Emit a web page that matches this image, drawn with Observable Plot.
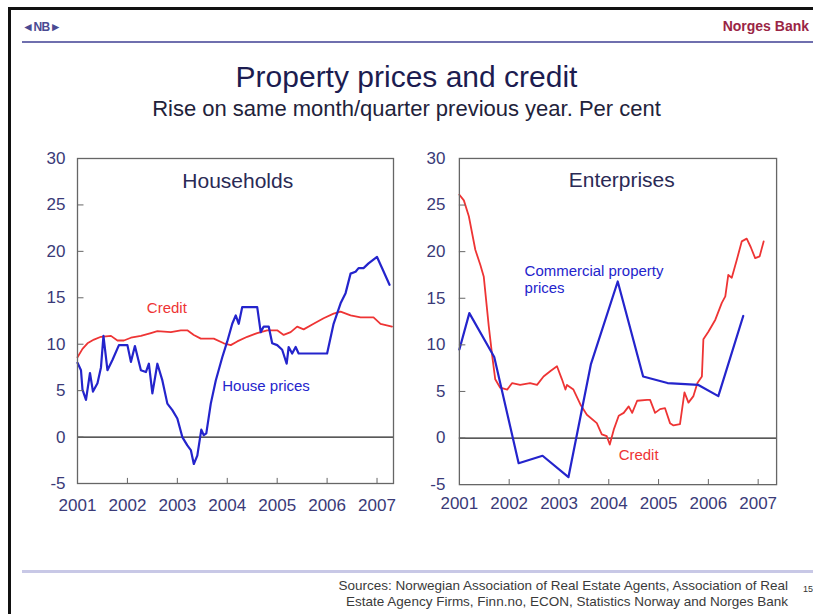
<!DOCTYPE html>
<html>
<head>
<meta charset="utf-8">
<script src="https://cdn.jsdelivr.net/npm/d3@7"></script>
<script src="https://cdn.jsdelivr.net/npm/@observablehq/plot@0.6"></script>
<style>
  html, body { margin: 0; padding: 0; background: #fff; }
  #page { position: relative; width: 813px; height: 614px; overflow: hidden; background: #fff;
          font-family: "Liberation Sans", Arial, sans-serif; }
  .abs { position: absolute; }
</style>
</head>
<body>
<div id="page">
  <div class="abs" style="left:8px;top:7px;width:805px;height:3px;background:#111;"></div>
  <div class="abs" style="left:8px;top:7px;width:3px;height:607px;background:#111;"></div>
  <div class="abs" style="left:22px;top:20px;font-size:12px;font-weight:bold;color:#4a4a92;letter-spacing:-0.5px;">◄NB►</div>
  <div class="abs" style="right:4px;top:18px;font-size:14px;font-weight:bold;color:#9a2545;">Norges Bank</div>
  <div class="abs" style="left:22px;top:41px;width:791px;height:2px;background:#6f6fae;"></div>
  <div class="abs" id="title" style="left:0;top:60px;width:813px;text-align:center;font-size:30px;color:#1c1c50;"></div>
  <div class="abs" id="subtitle" style="left:0;top:96px;width:813px;text-align:center;font-size:22px;color:#22223a;"></div>
  <div class="abs" id="left" style="left:0;top:140px;"></div>
  <div class="abs" id="right" style="left:410px;top:140px;"></div>
  <div class="abs" style="left:22px;top:570px;width:791px;height:3px;background:#c8c8e6;"></div>
  <div class="abs" id="sources" style="right:25px;top:578px;font-size:13.5px;line-height:15.5px;color:#3a3a3a;text-align:right;"></div>
  <div class="abs" style="left:803px;top:584px;font-size:9px;color:#333;">15</div>
</div>
<script>
// ---------- data ----------
const titleText = "Property prices and credit";
const subtitleText = "Rise on same month/quarter previous year. Per cent";
const sourceLines = [
  "Sources: Norwegian Association of Real Estate Agents, Association of Real",
  "Estate Agency Firms, Finn.no, ECON, Statistics Norway and Norges Bank"
];
const yearTicks = [2001, 2002, 2003, 2004, 2005, 2006, 2007];
const valueTicks = [-5, 0, 5, 10, 15, 20, 25, 30];

// Households: house prices (monthly)
const hhHouseT = [2001.00, 2001.07, 2001.10, 2001.17, 2001.25, 2001.31, 2001.40, 2001.47, 2001.52, 2001.60,
  2001.70, 2001.83, 2002.00, 2002.07, 2002.15, 2002.27, 2002.37, 2002.43, 2002.50, 2002.60,
  2002.70, 2002.80, 2002.90, 2003.00, 2003.10, 2003.20, 2003.27, 2003.33, 2003.40, 2003.48,
  2003.53, 2003.58, 2003.67, 2003.77, 2003.90, 2004.00, 2004.10, 2004.17, 2004.23, 2004.30,
  2004.60, 2004.67, 2004.73, 2004.83, 2004.90, 2005.00, 2005.10, 2005.19, 2005.23, 2005.30,
  2005.37, 2005.43, 2006.00, 2006.13, 2006.27, 2006.37, 2006.47, 2006.57, 2006.63, 2006.73,
  2006.83, 2007.00, 2007.10, 2007.25];
const hhHouseV = [8.0, 7.2, 5.1, 4.0, 6.9, 4.9, 5.8, 7.5, 10.9, 7.2,
  8.3, 9.9, 9.9, 8.1, 9.8, 7.2, 7.0, 7.9, 4.7, 7.9,
  6.1, 3.6, 2.9, 2.0, 0.0, -0.9, -1.4, -2.9, -2.0, 0.8,
  0.2, 0.4, 3.6, 6.1, 8.6, 10.3, 12.2, 13.1, 12.2, 14.0,
  14.0, 11.3, 11.9, 11.9, 10.1, 9.9, 9.4, 7.9, 9.7, 9.0,
  9.7, 9.0, 9.0, 12.2, 14.4, 15.5, 17.6, 17.8, 18.2, 18.2,
  18.7, 19.4, 18.2, 16.4];

// Households: credit
const hhCreditT = [2001.00, 2001.10, 2001.20, 2001.33, 2001.47, 2001.67, 2001.80, 2001.93, 2002.07, 2002.27,
  2002.47, 2002.60, 2002.87, 2003.07, 2003.20, 2003.33, 2003.47, 2003.73, 2003.93, 2004.07,
  2004.20, 2004.40, 2004.60, 2004.80, 2005.00, 2005.13, 2005.27, 2005.40, 2005.53, 2005.73,
  2005.93, 2006.13, 2006.27, 2006.47, 2006.67, 2006.93, 2007.07, 2007.30];
const hhCreditV = [8.6, 9.5, 10.1, 10.5, 10.8, 10.9, 10.4, 10.4, 10.7, 10.9,
  11.2, 11.4, 11.3, 11.5, 11.5, 11.0, 10.6, 10.6, 10.1, 9.9,
  10.3, 10.8, 11.2, 11.5, 11.5, 11.0, 11.3, 11.9, 11.6, 12.2,
  12.8, 13.3, 13.5, 13.1, 12.9, 12.9, 12.2, 11.9];

// Enterprises: commercial property prices
const enPropT = [2001.00, 2001.20, 2001.70, 2002.19, 2002.67, 2003.19, 2003.64, 2004.18, 2004.69, 2005.18,
  2005.80, 2006.20, 2006.70];
const enPropV = [9.5, 13.4, 8.7, -2.7, -1.9, -4.2, 7.9, 16.8, 6.6, 5.9,
  5.7, 4.5, 13.1];

// Enterprises: credit
const enCreditT = [2001.00, 2001.09, 2001.19, 2001.32, 2001.42, 2001.49, 2001.59, 2001.66, 2001.72, 2001.82,
  2001.96, 2002.06, 2002.22, 2002.42, 2002.56, 2002.69, 2002.83, 2002.96, 2003.06, 2003.13,
  2003.16, 2003.29, 2003.43, 2003.56, 2003.76, 2003.86, 2003.96, 2004.02, 2004.10, 2004.20,
  2004.30, 2004.40, 2004.47, 2004.57, 2004.77, 2004.83, 2004.93, 2005.03, 2005.13, 2005.23,
  2005.30, 2005.43, 2005.52, 2005.60, 2005.70, 2005.78, 2005.87, 2005.90, 2006.00, 2006.14,
  2006.27, 2006.34, 2006.40, 2006.47, 2006.57, 2006.67, 2006.77, 2006.85, 2006.94, 2007.03,
  2007.11];
const enCreditV = [26.1, 25.5, 23.8, 20.2, 18.6, 17.3, 12.0, 8.8, 6.3, 5.4,
  5.2, 5.9, 5.7, 5.9, 5.7, 6.6, 7.2, 7.7, 6.3, 5.2,
  5.7, 5.2, 3.6, 2.5, 1.6, 0.4, 0.2, -0.7, 0.9, 2.4,
  2.7, 3.4, 2.7, 4.0, 4.1, 4.1, 2.7, 3.1, 3.2, 1.6,
  1.35, 1.5, 4.9, 3.8, 4.5, 5.9, 6.6, 10.6, 11.4, 12.7,
  14.5, 15.2, 17.5, 17.2, 19.1, 21.1, 21.4, 20.5, 19.3, 19.5,
  21.1];

// ---------- build ----------
document.getElementById("title").textContent = titleText;
document.getElementById("subtitle").textContent = subtitleText;
document.getElementById("sources").innerHTML = sourceLines.map(s => `<div>${s}</div>`).join("");

const zip = (T, V) => T.map((t, i) => ({t, v: V[i]}));
const BLUE = "#2424cc", RED = "#ee3434", AXIS = "#3a3a78", FRAME = "#666";
const FONT = "'Liberation Sans', Arial, sans-serif";

function panel({xMax, marginLeft, marginRight, marginBottom, yPad, xPad, blue, red, title, titlePos, labels}) {
  const width = marginLeft + marginRight + (xMax - 2001) * 49.9;
  return Plot.plot({
    width: Math.round(width), height: 385,
    marginLeft, marginRight, marginTop: 18, marginBottom,
    x: {domain: [2001, xMax], axis: null},
    y: {domain: [-5, 30], axis: null},
    style: {fontFamily: FONT, background: "transparent", color: AXIS, overflow: "visible"},
    marks: [
      Plot.ruleY([0], {stroke: "#222", strokeWidth: 1.2}),
      Plot.line(red, {x: "t", y: "v", stroke: RED, strokeWidth: 1.8}),
      Plot.line(blue, {x: "t", y: "v", stroke: BLUE, strokeWidth: 2.2}),
      Plot.frame({stroke: FRAME, strokeWidth: 1.3}),
      Plot.ruleY(valueTicks.slice(1, -1), {y: d => d, x1: 2001, x2: 2001.13, stroke: FRAME}),
      Plot.ruleX(yearTicks.slice(1), {x: d => d, y1: -5, y2: -4.45, stroke: FRAME}),
      Plot.axisY(valueTicks, {label: null, tickSize: 0, tickPadding: yPad, fontSize: 17, tickFormat: d => String(d), fill: AXIS}),
      Plot.axisX(yearTicks, {label: null, tickSize: 0, tickPadding: xPad, fontSize: 17, tickFormat: d => String(d), fill: AXIS}),
      Plot.text([title], {x: titlePos[0], y: titlePos[1], text: d => d, fontSize: 21, fill: "#2a2a55"}),
      ...labels.map(l => Plot.text([l.text], {x: l.x, y: l.y, text: d => d, fontSize: 15, fill: l.color, textAnchor: l.anchor || "middle"}))
    ]
  });
}

const leftSvg = panel({
  xMax: 2007.33, marginLeft: 77, marginRight: 17, marginBottom: 42, yPad: 12, xPad: 15,
  blue: zip(hhHouseT, hhHouseV), red: zip(hhCreditT, hhCreditV),
  title: "Households", titlePos: [2004.21, 27.5],
  labels: [
    {text: "Credit", x: 2002.79, y: 13.85, color: RED},
    {text: "House prices", x: 2003.9, y: 5.45, color: BLUE, anchor: "start"}
  ]
});
const rightSvg = panel({
  xMax: 2007.37, marginLeft: 49, marginRight: 37, marginBottom: 40, yPad: 14, xPad: 12,
  blue: zip(enPropT, enPropV), red: zip(enCreditT, enCreditV),
  title: "Enterprises", titlePos: [2004.26, 27.7],
  labels: [
    {text: "Commercial property", x: 2002.31, y: 17.95, color: BLUE, anchor: "start"},
    {text: "prices", x: 2002.31, y: 16.13, color: BLUE, anchor: "start"},
    {text: "Credit", x: 2004.6, y: -1.84, color: RED}
  ]
});
document.getElementById("left").appendChild(leftSvg);
document.getElementById("right").appendChild(rightSvg);
</script>
</body>
</html>
